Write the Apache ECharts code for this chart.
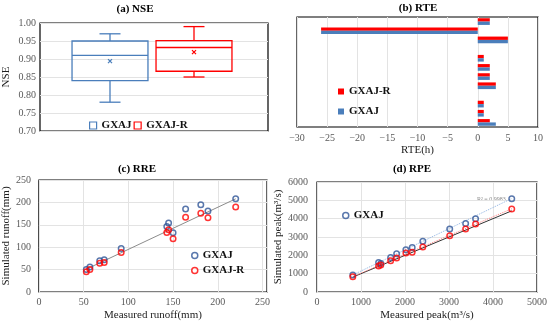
<!DOCTYPE html>
<html><head><meta charset="utf-8">
<script src="https://cdn.jsdelivr.net/npm/echarts@6/dist/echarts.min.js"></script>
<style>html,body{margin:0;padding:0;background:#fff}#c{width:550px;height:323px}</style>
</head><body><div id="c"></div>
<script>
// ---------- (a) NSE : box statistics [min, Q1, median, Q3, max, mean] ----------
const nseModels = ['GXAJ', 'GXAJ-R'];
const nseGXAJ  = [0.78, 0.84, 0.91, 0.95, 0.97, 0.894];
const nseGXAJR = [0.85, 0.866, 0.932, 0.951, 0.99, 0.919];

// ---------- (b) RTE (h) : one row per flood event, top to bottom ----------
const rteEvents = ['1','2','3','4','5','6','7','8','9','10','11','12'];
const rteGXAJ  = [2, -26, 5, null, 1, 2, 2, 3, null, 1, 1, 3];
const rteGXAJR = [2, -26, 5, null, 1, 2, 2, 3, null, 1, 1, 2];

// ---------- (c) RRE : runoff (mm) ----------
const measuredRunoff = [53, 57, 68, 73, 92, 143, 145, 150, 164, 181, 189, 220];
const simRunoffGXAJ  = [50, 56, 70, 72, 97, 146, 154, 132, 185, 195, 181, 208];
const simRunoffGXAJR = [45, 50, 64, 66, 88, 133, 139, 119, 167, 176, 166, 190];
const runoffLine = [[52, 50], [220, 208]];

// ---------- (d) RPE : peak (m3/s) ----------
const measuredPeak = [814, 1400, 1450, 1674, 1810, 2020, 2163, 2405, 3016, 3378, 3604, 4426];
const simPeakGXAJ  = [927, 1615, 1560, 1888, 2090, 2308, 2434, 2762, 3436, 3742, 3999, 5090];
const simPeakGXAJR = [835, 1418, 1470, 1707, 1854, 2127, 2162, 2455, 3071, 3436, 3709, 4527];
const peakLine1to1   = [[814, 814], [4426, 4426]];
const peakTrendGXAJ  = [[814, 930], [4426, 5100]];
const peakTrendGXAJR = [[814, 840], [4426, 4540]];
const peakR2Text = 'R\u00B2 = 0.9983';

// ---------- styling ----------
const SERIF = '"Liberation Serif", "Times New Roman", serif';
const BLUE_BOX = '#4a7ebb', BLUE_BAR = '#4a7ebb', BLUE_PT = '#2f5597', RED = '#ff0000';
const tickLbl = { fontFamily: SERIF, fontSize: 10, color: '#595959' };
const nameSt = { fontFamily: SERIF, fontSize: 11, color: '#222' };
const legTxt = { fontFamily: SERIF, fontSize: 11, fontWeight: 'bold', color: '#111' };
const split = { show: true, lineStyle: { color: '#e3e3e3', width: 1 } };
const frame = { show: true, borderColor: '#000', borderWidth: 1.2, backgroundColor: 'rgba(0,0,0,0)' };
const pairs = (xs, ys) => xs.map((x, i) => [x, ys[i]]);
const stripName = n => n.split(':')[1];

function boxItem(color) {
  return function (params, api) {
    const cat = api.value(0);
    const band = api.size([1, 0])[0];
    const pt = k => api.coord([cat, api.value(k)]);
    const cx = pt(1)[0];
    const yMin = pt(1)[1], yQ1 = pt(2)[1], yMed = pt(3)[1], yQ3 = pt(4)[1], yMax = pt(5)[1], yMean = pt(6)[1];
    const hw = band * 0.452, cap = band * 0.125, mk = 2;
    const st = { stroke: color, lineWidth: 1.3, fill: 'none' };
    const ln = (x1, y1, x2, y2) => ({ type: 'line', shape: { x1, y1, x2, y2 }, style: st });
    return { type: 'group', children: [
      { type: 'rect', shape: { x: cx - hw, y: yQ3, width: 2 * hw, height: yQ1 - yQ3 }, style: st },
      ln(cx - hw, yMed, cx + hw, yMed),
      ln(cx, yQ3, cx, yMax), ln(cx - cap, yMax, cx + cap, yMax),
      ln(cx, yQ1, cx, yMin), ln(cx - cap, yMin, cx + cap, yMin),
      ln(cx - mk, yMean - mk, cx + mk, yMean + mk), ln(cx - mk, yMean + mk, cx + mk, yMean - mk)
    ]};
  };
}

const option = {
  animation: false,
  backgroundColor: '#fff',
  textStyle: { fontFamily: SERIF },
  graphic: [
    { type: 'text', x: 135, y: 4, style: { text: '(a) NSE', font: 'bold 11px ' + SERIF, fill: '#000', align: 'center', verticalAlign: 'top' } },
    { type: 'text', x: 418, y: 3, style: { text: '(b) RTE', font: 'bold 11px ' + SERIF, fill: '#000', align: 'center', verticalAlign: 'top' } },
    { type: 'text', x: 137, y: 164, style: { text: '(c) RRE', font: 'bold 11px ' + SERIF, fill: '#000', align: 'center', verticalAlign: 'top' } },
    { type: 'text', x: 412, y: 164, style: { text: '(d) RPE', font: 'bold 11px ' + SERIF, fill: '#000', align: 'center', verticalAlign: 'top' } },
    { type: 'text', x: 477, y: 196, style: { text: peakR2Text, font: '6px ' + SERIF, fill: '#8a8a8a' } }
  ],
  grid: [
    Object.assign({ left: 40, top: 23, width: 228, height: 108 }, frame),   // 0 (a) frame
    { left: 68, top: 23, width: 168, height: 108 },                        // 1 (a) boxes
    Object.assign({ left: 297, top: 17, width: 241, height: 110 }, frame),  // 2 (b)
    Object.assign({ left: 37, top: 180, width: 230, height: 112 }, frame),  // 3 (c)
    Object.assign({ left: 317, top: 182, width: 221, height: 110 }, frame)  // 4 (d)
  ],
  xAxis: [
    { gridIndex: 0, type: 'value', show: false },
    { gridIndex: 1, type: 'category', data: nseModels, show: false },
    { gridIndex: 2, type: 'value', min: -30, max: 10, interval: 5,
      axisLine: { show: false }, axisTick: { show: false }, splitLine: split,
      axisLabel: Object.assign({ margin: 6, formatter: v => String(v).replace('-', '\u2212') }, tickLbl),
      name: 'RTE(h)', nameLocation: 'middle', nameGap: 18, nameTextStyle: nameSt },
    { gridIndex: 3, type: 'value', min: 0, max: 255, interval: 50,
      axisLine: { show: false }, axisTick: { show: false }, splitLine: split,
      axisLabel: Object.assign({ margin: 5, formatter: v => (v % 50 === 0 ? String(v) : '') }, tickLbl),
      name: 'Measured runoff(mm)', nameLocation: 'middle', nameGap: 18, nameTextStyle: nameSt },
    { gridIndex: 4, type: 'value', min: 0, max: 5000, interval: 1000,
      axisLine: { show: false }, axisTick: { show: false }, splitLine: split,
      axisLabel: Object.assign({ margin: 5, formatter: v => String(v) }, tickLbl),
      name: 'Measured peak(m\u00B3/s)', nameLocation: 'middle', nameGap: 18, nameTextStyle: nameSt }
  ],
  yAxis: [
    { gridIndex: 0, type: 'value', min: 0.7, max: 1.0, interval: 0.05,
      axisLine: { show: false }, axisTick: { show: false }, splitLine: split,
      axisLabel: Object.assign({ margin: 4, formatter: v => v.toFixed(2) }, tickLbl),
      name: 'NSE', nameLocation: 'middle', nameGap: 28, nameTextStyle: nameSt },
    { gridIndex: 1, type: 'value', min: 0.7, max: 1.0, show: false },
    { gridIndex: 2, type: 'category', data: rteEvents, inverse: true, show: false },
    { gridIndex: 3, type: 'value', min: 0, max: 250, interval: 50,
      axisLine: { show: false }, axisTick: { show: false }, splitLine: split,
      axisLabel: Object.assign({ margin: 8, formatter: v => String(v) }, tickLbl),
      name: 'Simulated runoff(mm)', nameLocation: 'middle', nameGap: 25, nameTextStyle: nameSt },
    { gridIndex: 4, type: 'value', min: 0, max: 6000, interval: 1000,
      axisLine: { show: false }, axisTick: { show: false }, splitLine: split,
      axisLabel: Object.assign({ margin: 9, formatter: v => String(v) }, tickLbl),
      name: 'Simulated peak(m\u00B3/s)', nameLocation: 'middle', nameGap: 30, nameTextStyle: nameSt }
  ],
  legend: [
    { left: 89, top: 120, padding: 0, orient: 'horizontal', itemWidth: 7, itemHeight: 7, itemGap: 2,
      formatter: stripName, textStyle: legTxt,
      data: [
        { name: 'a:GXAJ', icon: 'rect', itemStyle: { color: '#fff', borderColor: BLUE_BOX, borderWidth: 1.2 } },
        { name: 'a:GXAJ-R', icon: 'rect', itemStyle: { color: '#fff', borderColor: RED, borderWidth: 1.2 } }
      ] },
    { left: 338, top: 86, padding: 0, orient: 'vertical', itemWidth: 6, itemHeight: 6, itemGap: 9,
      formatter: stripName, textStyle: legTxt,
      data: [{ name: 'b:GXAJ-R', icon: 'rect' }, { name: 'b:GXAJ', icon: 'rect' }] },
    { left: 191, top: 250, padding: 0, orient: 'vertical', itemWidth: 6, itemHeight: 6, itemGap: 4,
      formatter: stripName, textStyle: legTxt,
      data: [
        { name: 'c:GXAJ', icon: 'circle', itemStyle: { color: '#fff', borderColor: BLUE_PT, borderWidth: 1.5 } },
        { name: 'c:GXAJ-R', icon: 'circle', itemStyle: { color: '#fff', borderColor: RED, borderWidth: 1.5 } }
      ] },
    { left: 342, top: 210, padding: 0, orient: 'vertical', itemWidth: 6, itemHeight: 6,
      formatter: stripName, textStyle: legTxt,
      data: [{ name: 'd:GXAJ', icon: 'circle', itemStyle: { color: '#fff', borderColor: BLUE_PT, borderWidth: 1.5 } }] }
  ],
  series: [
    // (a)
    { name: 'a:GXAJ', type: 'custom', xAxisIndex: 1, yAxisIndex: 1, renderItem: boxItem(BLUE_BOX),
      encode: { x: 0, y: [1, 2, 3, 4, 5, 6] }, data: [[nseModels[0]].concat(nseGXAJ)] },
    { name: 'a:GXAJ-R', type: 'custom', xAxisIndex: 1, yAxisIndex: 1, renderItem: boxItem(RED),
      encode: { x: 0, y: [1, 2, 3, 4, 5, 6] }, data: [[nseModels[1]].concat(nseGXAJR)] },
    // (b)
    { name: 'b:GXAJ-R', type: 'bar', xAxisIndex: 2, yAxisIndex: 2, data: rteGXAJR,
      itemStyle: { color: RED }, barGap: '0%', barCategoryGap: '27%' },
    { name: 'b:GXAJ', type: 'bar', xAxisIndex: 2, yAxisIndex: 2, data: rteGXAJ,
      itemStyle: { color: BLUE_BAR }, barGap: '0%', barCategoryGap: '27%' },
    // (c)
    { name: 'c:line', type: 'line', xAxisIndex: 3, yAxisIndex: 3, data: runoffLine, symbol: 'none',
      lineStyle: { color: '#8c8c8c', width: 1 }, z: 1 },
    { name: 'c:GXAJ', type: 'scatter', xAxisIndex: 3, yAxisIndex: 3, data: pairs(measuredRunoff, simRunoffGXAJ),
      symbolSize: 5.5, itemStyle: { color: 'rgba(0,0,0,0)', borderColor: BLUE_PT, borderWidth: 1.5 } },
    { name: 'c:GXAJ-R', type: 'scatter', xAxisIndex: 3, yAxisIndex: 3, data: pairs(measuredRunoff, simRunoffGXAJR),
      symbolSize: 5.5, itemStyle: { color: 'rgba(0,0,0,0)', borderColor: RED, borderWidth: 1.5 } },
    // (d)
    { name: 'd:1to1', type: 'line', xAxisIndex: 4, yAxisIndex: 4, data: peakLine1to1, symbol: 'none',
      lineStyle: { color: '#333', width: 1 }, z: 1 },
    { name: 'd:trendR', type: 'line', xAxisIndex: 4, yAxisIndex: 4, data: peakTrendGXAJR, symbol: 'none',
      lineStyle: { color: '#ff8080', width: 1, type: 'dotted' }, z: 1 },
    { name: 'd:trend', type: 'line', xAxisIndex: 4, yAxisIndex: 4, data: peakTrendGXAJ, symbol: 'none',
      lineStyle: { color: '#8fb4e3', width: 1, type: 'dotted' }, z: 1 },
    { name: 'd:GXAJ', type: 'scatter', xAxisIndex: 4, yAxisIndex: 4, data: pairs(measuredPeak, simPeakGXAJ),
      symbolSize: 5.5, itemStyle: { color: 'rgba(0,0,0,0)', borderColor: BLUE_PT, borderWidth: 1.5 } },
    { name: 'd:GXAJ-R', type: 'scatter', xAxisIndex: 4, yAxisIndex: 4, data: pairs(measuredPeak, simPeakGXAJR),
      symbolSize: 5.5, itemStyle: { color: 'rgba(0,0,0,0)', borderColor: RED, borderWidth: 1.5 } }
  ]
};
const chart = echarts.init(document.getElementById('c'), null, { renderer: 'canvas' });
chart.setOption(option);
</script></body></html>
